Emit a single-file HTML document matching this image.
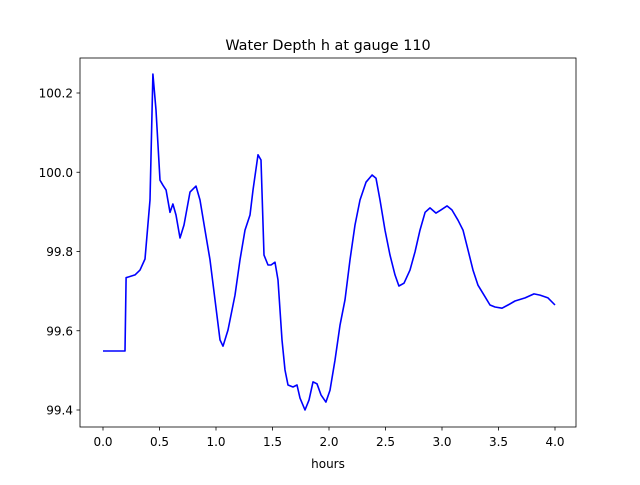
<!DOCTYPE html>
<html><head><meta charset="utf-8"><style>
body{margin:0;background:#fff;}
svg text{font-family:"DejaVu Sans","Liberation Sans",sans-serif;fill:#000;}
</style></head><body>
<svg id="chart" width="640" height="480">
<rect width="640" height="480" fill="#fff"/>
<text x="328" y="50" font-size="14.4" text-anchor="middle">Water Depth h at gauge 110</text>
<g id="plot"></g>
<rect x="80" y="58" width="496" height="369" fill="none" stroke="#000" stroke-width="0.8"/>
<text x="328" y="468" font-size="12" text-anchor="middle">hours</text>
</svg>
<script>
const hours=[0,0.195,0.204,0.283,0.327,0.372,0.416,0.442,0.469,0.504,0.531,0.558,0.593,0.619,0.646,0.681,0.717,0.770,0.823,0.858,0.903,0.947,0.991,1.035,1.062,1.106,1.168,1.212,1.257,1.301,1.327,1.372,1.398,1.425,1.460,1.487,1.522,1.549,1.584,1.611,1.637,1.681,1.717,1.743,1.788,1.823,1.858,1.894,1.929,1.973,2.009,2.053,2.097,2.142,2.186,2.230,2.274,2.327,2.381,2.416,2.451,2.496,2.540,2.584,2.619,2.664,2.717,2.761,2.805,2.850,2.894,2.947,2.991,3.044,3.088,3.142,3.186,3.230,3.274,3.319,3.372,3.425,3.469,3.531,3.584,3.646,3.735,3.814,3.867,3.938,4.0];
const depth=[99.549,99.549,99.734,99.741,99.753,99.781,99.930,100.248,100.157,99.980,99.967,99.955,99.899,99.920,99.892,99.834,99.867,99.950,99.965,99.930,99.854,99.779,99.678,99.577,99.561,99.602,99.690,99.779,99.854,99.892,99.955,100.044,100.031,99.791,99.766,99.766,99.773,99.728,99.577,99.501,99.463,99.458,99.463,99.430,99.400,99.425,99.471,99.466,99.438,99.420,99.450,99.526,99.614,99.678,99.779,99.867,99.930,99.975,99.993,99.985,99.930,99.854,99.791,99.741,99.713,99.720,99.753,99.799,99.854,99.899,99.910,99.897,99.905,99.915,99.905,99.879,99.854,99.804,99.753,99.715,99.690,99.665,99.660,99.657,99.665,99.675,99.683,99.693,99.690,99.683,99.665];
const xTicks=[0,0.5,1,1.5,2,2.5,3,3.5,4];
const xTickLabels=["0.0","0.5","1.0","1.5","2.0","2.5","3.0","3.5","4.0"];
const yTicks=[99.4,99.6,99.8,100.0,100.2];
const yTickLabels=["99.4","99.6","99.8","100.0","100.2"];
const NS="http://www.w3.org/2000/svg";
const xS=h=>103+h*113;
const yS=v=>93+(100.2-v)*396.25;
const g=document.getElementById('plot');
function mk(t,a){const e=document.createElementNS(NS,t);for(const k in a)e.setAttribute(k,a[k]);return e;}
xTicks.forEach((t,i)=>{
 const l=mk('line',{x1:xS(t),x2:xS(t),y1:427,y2:430.5,stroke:'#000','stroke-width':0.8});
 
 
 g.appendChild(l);
 const tx=mk('text',{x:xS(t),y:446,'font-size':12,'text-anchor':'middle'});
 tx.textContent=xTickLabels[i];
 
 
 g.appendChild(tx);
});
yTicks.forEach((t,i)=>{
 const l=mk('line',{x1:76.5,x2:80,y1:yS(t),y2:yS(t),stroke:'#000','stroke-width':0.8});
 
 
 g.appendChild(l);
 const tx=mk('text',{x:73,y:yS(t)+4.5,'font-size':12,'text-anchor':'end'});
 tx.textContent=yTickLabels[i];
 
 
 g.appendChild(tx);
});
const pts=hours.map((h,i)=>xS(h).toFixed(1)+','+yS(depth[i]).toFixed(1)).join(' ');
const line=mk('polyline',{points:pts,fill:'none',stroke:'#0000ff','stroke-width':1.6,'stroke-linejoin':'round'});


g.appendChild(line);
</script>
</body></html>
